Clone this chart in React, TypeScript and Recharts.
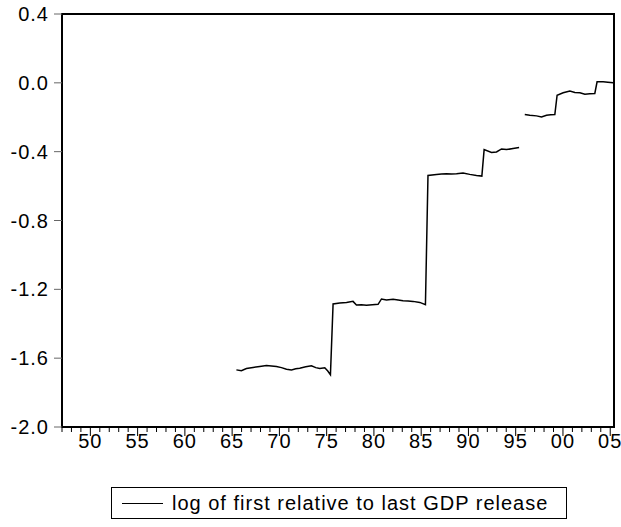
import React from 'react';
import { LineChart, Line, XAxis, YAxis, ReferenceArea } from 'recharts';

// quarterly-ish observation dates (decimal years) and log(first/last) GDP release
const years = [
  1965.45, 1965.98, 1966.51, 1967.21, 1967.92, 1968.63, 1969.69, 1970.22, 1970.75, 1971.28,
  1971.73, 1972.15, 1972.79, 1973.39, 1973.85, 1974.27, 1974.8, 1975.12, 1975.4,
  1975.68, 1976.39, 1977.1, 1977.79, 1978.15, 1978.68, 1979.21, 1979.83, 1980.44, 1980.8,
  1981.33, 1982.03, 1982.56, 1983.08, 1983.61, 1984.14, 1984.85, 1985.45,
  1985.72, 1986.62, 1987.15, 1987.68, 1988.21, 1988.74, 1989.43, 1990.14, 1990.85, 1991.42,
  1991.66, 1992.44, 1992.97, 1993.5, 1994.03, 1994.72, 1995.36,
  1995.66,
  1995.96, 1996.49, 1997.2, 1997.73, 1998.26, 1998.71, 1999.14,
  1999.38, 2000.02, 2000.73, 2001.26, 2001.79, 2002.32, 2002.84, 2003.37,
  2003.61, 2004.25, 2004.75, 2005.31,
];

const gdpRatio: (number | null)[] = [
  -1.668, -1.673, -1.66, -1.654, -1.648, -1.643, -1.648, -1.655, -1.664, -1.668,
  -1.662, -1.658, -1.65, -1.644, -1.655, -1.66, -1.656, -1.675, -1.697,
  -1.285, -1.279, -1.276, -1.27, -1.291, -1.29, -1.293, -1.29, -1.287, -1.256,
  -1.262, -1.258, -1.262, -1.266, -1.268, -1.27, -1.276, -1.289,
  -0.538, -0.532, -0.53, -0.528, -0.53, -0.528, -0.524, -0.532, -0.538, -0.542,
  -0.388, -0.405, -0.402, -0.384, -0.388, -0.382, -0.376,
  null,
  -0.184, -0.188, -0.192, -0.198, -0.188, -0.186, -0.184,
  -0.072, -0.058, -0.048, -0.056, -0.058, -0.066, -0.064, -0.062,
  0.006, 0.006, 0.004, 0.0,
];

const yTicks = [-2.0, -1.6, -1.2, -0.8, -0.4, 0.0, 0.4];
const xTicks = Array.from({ length: 59 }, (_, i) => 1947 + i);
const legendLabel = 'log of first relative to last GDP release';

const data = years.map((t, i) => ({ t, v: gdpRatio[i] }));

const FONT = 'Liberation Sans, Arial, Helvetica, sans-serif';

const YearTick = (props: any) => {
  const { x, y, payload } = props;
  const yr = payload.value as number;
  const major = yr % 5 === 0;
  return (
    <g>
      <line x1={x} x2={x} y1={y + 1} y2={y + (major ? 9 : 5)} stroke="#000" strokeWidth={1} />
      {major && (
        <text
          x={x}
          y={y + 21}
          textAnchor="middle"
          fontSize={20}
          letterSpacing={1}
          fontFamily={FONT}
          fill="#000"
        >
          {String(yr % 100).padStart(2, '0')}
        </text>
      )}
    </g>
  );
};

export default function App() {
  return (
    <div style={{ position: 'absolute', left: 0, top: 0, width: 621, height: 527, background: '#fff' }}>
      <LineChart
        width={621}
        height={527}
        data={data}
        margin={{ top: 14, right: 7, left: 0, bottom: 0 }}
      >
        <XAxis
          dataKey="t"
          type="number"
          domain={[1947, 2005.4]}
          ticks={xTicks}
          interval={0}
          allowDataOverflow
          height={100}
          axisLine={{ stroke: '#000', strokeWidth: 2 }}
          tickLine={false}
          tickSize={0}
          tickMargin={0}
          tick={<YearTick />}
        />
        <YAxis
          type="number"
          domain={[-2, 0.4]}
          ticks={yTicks}
          interval={0}
          allowDataOverflow
          width={62}
          axisLine={{ stroke: '#000', strokeWidth: 2 }}
          tickLine={{ stroke: '#666', strokeWidth: 1 }}
          tickSize={8}
          tickMargin={5}
          tickFormatter={(v: number) => v.toFixed(1)}
          tick={{ fill: '#000', fontSize: 20, fontFamily: FONT, letterSpacing: 1 }}
        />
        <ReferenceArea
          x1={1947}
          x2={2005.4}
          y1={-2}
          y2={0.4}
          fill="none"
          stroke="#000"
          strokeWidth={2}
          ifOverflow="visible"
        />
        <Line
          type="linear"
          dataKey="v"
          stroke="#000"
          strokeWidth={1.5}
          dot={false}
          connectNulls={false}
          isAnimationActive={false}
        />
      </LineChart>
      <div
        style={{
          position: 'absolute',
          left: 111,
          top: 487,
          width: 456,
          height: 32,
          boxSizing: 'border-box',
          border: '1.5px solid #000',
          display: 'flex',
          alignItems: 'center',
          fontFamily: FONT,
          fontSize: 20,
          letterSpacing: 1,
          color: '#000',
        }}
      >
        <span style={{ display: 'inline-block', width: 41, height: 0, borderTop: '1.5px solid #000', marginLeft: 10, marginRight: 9 }} />
        <span style={{ whiteSpace: 'nowrap' }}>{legendLabel}</span>
      </div>
    </div>
  );
}
